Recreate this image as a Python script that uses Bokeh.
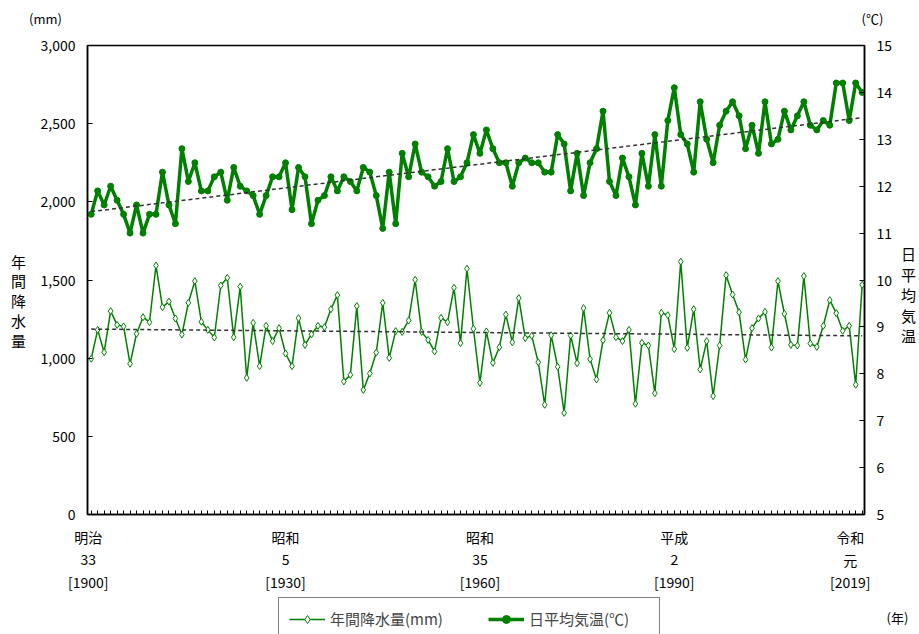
import numpy as np
from bokeh.plotting import figure
from bokeh.layouts import column, row
from bokeh.models import (Range1d, LinearAxis, FixedTicker, NumeralTickFormatter,
                          Label, Legend, LegendItem)
from bokeh.embed import file_html
from bokeh.resources import INLINE

# ---------------- data ----------------
years = list(range(1900, 2020))

precip = [
    996, 1181, 1038, 1301, 1213, 1203, 964, 1156, 1262, 1230,      # 1900-09
    1593, 1326, 1362, 1254, 1151, 1354, 1493, 1233, 1181, 1132,    # 1910-19
    1465, 1514, 1134, 1458, 874, 1226, 949, 1207, 1109, 1192,      # 1920-29
    1030, 949, 1256, 1085, 1153, 1207, 1198, 1313, 1403, 851,      # 1930-39
    893, 1333, 797, 902, 1036, 1354, 1002, 1173, 1168, 1241,       # 1940-49
    1501, 1168, 1117, 1043, 1258, 1230, 1450, 1096, 1572, 1188,    # 1950-59
    842, 1171, 970, 1070, 1279, 1102, 1384, 1128, 1143, 974,       # 1960-69
    702, 1147, 945, 650, 1145, 968, 1320, 994, 864, 1115,          # 1970-79
    1290, 1134, 1109, 1181, 708, 1098, 1081, 776, 1290, 1275,      # 1980-89
    1058, 1618, 1066, 1313, 928, 1109, 757, 1081, 1531, 1407,      # 1990-99
    1294, 991, 1192, 1254, 1296, 1068, 1493, 1284, 1085, 1081,     # 2000-09
    1525, 1094, 1072, 1207, 1371, 1288, 1175, 1207, 830, 1469,     # 2010-19
]

temp = [
    11.4, 11.9, 11.6, 12.0, 11.7, 11.4, 11.0, 11.6, 11.0, 11.4,
    11.4, 12.3, 11.6, 11.2, 12.8, 12.1, 12.5, 11.9, 11.9, 12.2,
    12.3, 11.7, 12.4, 12.0, 11.9, 11.8, 11.4, 11.8, 12.2, 12.2,
    12.5, 11.5, 12.4, 12.2, 11.2, 11.7, 11.8, 12.2, 11.9, 12.2,
    12.1, 11.9, 12.4, 12.3, 11.8, 11.1, 12.3, 11.2, 12.7, 12.2,
    12.9, 12.3, 12.2, 12.0, 12.1, 12.8, 12.1, 12.2, 12.5, 13.1,
    12.7, 13.2, 12.8, 12.5, 12.5, 12.0, 12.5, 12.6, 12.5, 12.5,
    12.3, 12.3, 13.1, 12.9, 11.9, 12.7, 11.8, 12.5, 12.8, 13.6,
    12.1, 11.8, 12.6, 12.2, 11.6, 12.7, 12.0, 13.1, 12.0, 13.4,
    14.1, 13.1, 12.9, 12.3, 13.8, 13.0, 12.5, 13.3, 13.6, 13.8,
    13.5, 12.8, 13.3, 12.7, 13.8, 12.9, 13.0, 13.6, 13.2, 13.5,
    13.8, 13.3, 13.2, 13.4, 13.3, 14.2, 14.2, 13.4, 14.2, 14.0,
]

era_ticks = [1900, 1930, 1960, 1990, 2019]
era_names = ["明治", "昭和", "昭和", "平成", "令和"]
era_years = ["33", "5", "35", "2", "元"]
west_years = ["[1900]", "[1930]", "[1960]", "[1990]", "[2019]"]

precip_ticks = [0, 500, 1000, 1500, 2000, 2500, 3000]
temp_ticks = [5, 6, 7, 8, 9, 10, 11, 12, 13, 14, 15]

left_title = ["年", "間", "降", "水", "量"]
right_title = ["日", "平", "均", "気", "温"]

label_precip = "年間降水量(mm)"
label_temp = "日平均気温(℃)"

# ---------------- style / layout ----------------
GREEN = "#008000"
TREND = "#333333"
JP = "Noto Sans CJK JP"
X0, X1 = 1899.43, 2019.36
W, H = 919, 634
TOP_H = 30                    # strip above the chart
LEFT_W, RIGHT_W = 35, 26      # strips with the stacked axis titles
FW, FH = 777, 469             # plot frame
ML, MR, MT, MB = 52, 29, 15, 12
MAIN_W = ML + FW + MR
MAIN_H = MT + FH + MB
BOT_H = H - TOP_H - MAIN_H
PPY = FW / (X1 - X0)
FRAME_LEFT = LEFT_W + ML      # page x of the frame's left edge


def strip(w, h, x_range, y_range):
    f = figure(width=w, height=h, x_range=x_range, y_range=y_range,
               x_axis_type=None, y_axis_type=None, output_backend="svg",
               toolbar_location=None, min_border=0)
    f.outline_line_color = None
    f.background_fill_color = "white"
    f.border_fill_color = "white"
    return f


def lab(f, x, y, t, size="14px", align="center", dx=0):
    f.add_layout(Label(x=x, y=y, text=t, text_align=align, text_baseline="middle",
                       x_offset=dx, text_font=JP, text_font_size=size,
                       text_color="black"))


# ---- main chart ----
p = figure(frame_width=FW, frame_height=FH,
           x_range=Range1d(X0, X1), y_range=Range1d(0, 3000),
           output_backend="svg", toolbar_location=None,
           min_border_left=ML, min_border_right=MR,
           min_border_top=MT, min_border_bottom=MB)
p.extra_y_ranges = {"t": Range1d(5, 15)}
p.xgrid.visible = False
p.ygrid.visible = False
p.outline_line_color = "black"
p.outline_line_width = 1.5
p.background_fill_color = "white"
p.border_fill_color = "white"

la = p.yaxis[0]
la.ticker = FixedTicker(ticks=precip_ticks)
la.formatter = NumeralTickFormatter(format="0,0")
ra = LinearAxis(y_range_name="t", ticker=FixedTicker(ticks=temp_ticks))
p.add_layout(ra, "right")

for ax in (la, ra):
    ax.major_tick_in = 5
    ax.major_tick_out = 0
    ax.minor_tick_in = 0
    ax.minor_tick_out = 0
    ax.axis_line_width = 1.5
    ax.axis_line_color = "black"
    ax.major_tick_line_color = "black"
    ax.major_label_text_font = JP
    ax.major_label_text_font_size = "14px"
    ax.major_label_text_color = "black"
    ax.major_label_standoff = 12

xa = p.xaxis[0]
xa.ticker = FixedTicker(ticks=years)
xa.major_label_overrides = {y: "" for y in years}
xa.major_label_text_font_size = "1px"
xa.major_label_standoff = 0
xa.major_tick_in = 4
xa.major_tick_out = 0
xa.minor_tick_in = 0
xa.minor_tick_out = 0
xa.axis_line_width = 1.5
xa.axis_line_color = "black"
xa.major_tick_line_color = "black"

p.line(years, precip, line_color=GREEN, line_width=1.5)
p.scatter(years, precip, marker="diamond", size=7, line_color=GREEN,
          fill_color="white", line_width=1)
p.line(years, temp, y_range_name="t", line_color=GREEN, line_width=3.5)
p.scatter(years, temp, y_range_name="t", marker="circle", size=6,
          fill_color=GREEN, line_color=GREEN)

ends = [years[0], years[-1]]
cp = np.polyfit(years, precip, 1)
ct = np.polyfit(years, temp, 1)
p.line(ends, list(np.polyval(cp, ends)), line_dash="4 3", line_color=TREND, line_width=1.5)
p.line(ends, list(np.polyval(ct, ends)), y_range_name="t", line_dash="4 3",
       line_color=TREND, line_width=1.5)

# ---- top strip: units ----
top = strip(W, TOP_H, Range1d(0, W), Range1d(TOP_H, 0))
lab(top, 45, 18, "(mm)", "13px")
lab(top, 872, 18, "(℃)", "13px")

# ---- side strips: stacked axis titles ----
left = strip(LEFT_W, MAIN_H, Range1d(0, LEFT_W), Range1d(MAIN_H, 0))
for i, ch in enumerate(left_title):
    lab(left, 18, 258 - TOP_H + i * 21, ch, "15px")
right = strip(RIGHT_W, MAIN_H, Range1d(0, RIGHT_W), Range1d(MAIN_H, 0))
for i, ch in enumerate(right_title):
    lab(right, RIGHT_W / 2, 250 - TOP_H + i * 21.7, ch, "15px")

# ---- bottom strip: year labels, legend, unit ----
bx = Range1d(X0 - FRAME_LEFT / PPY, X1 + (W - FRAME_LEFT - FW) / PPY)
bot = strip(W, BOT_H, bx, Range1d(BOT_H, 0))
# a range that keeps the legend's sample renderers outside the strip's view
bot.extra_y_ranges = {"hidden": Range1d(-3000, -2000)}
y_base = TOP_H + MAIN_H
shifts = [-3, 0, 0, 0, -12]   # pixel nudges of the tick-label columns
for xv, a, b, c, dx in zip(era_ticks, era_names, era_years, west_years, shifts):
    lab(bot, xv, 536 - y_base, a, "14px", dx=dx)
    lab(bot, xv, 559 - y_base, b, "14px", dx=dx)
    lab(bot, xv, 581 - y_base, c, "14px", dx=dx)
lab(bot, bx.start + 897 / PPY, 617 - y_base, "(年)", "13px")

lp_line = bot.line(years, precip, y_range_name="hidden", line_color=GREEN, line_width=1.5)
lp_mark = bot.scatter(years, precip, y_range_name="hidden", marker="diamond", size=7,
                      line_color=GREEN, fill_color="white", line_width=1)
lt_line = bot.line(years, temp, y_range_name="hidden", line_color=GREEN, line_width=3.5)
lt_mark = bot.scatter(years, temp, y_range_name="hidden", marker="circle", size=6,
                      fill_color=GREEN, line_color=GREEN)

legend = Legend(items=[LegendItem(label=label_precip, renderers=[lp_line, lp_mark]),
                       LegendItem(label=label_temp, renderers=[lt_line, lt_mark])],
                location=(278, BOT_H - (600 - y_base) - 40), orientation="horizontal",
                border_line_color="black", border_line_width=1,
                background_fill_color="white", background_fill_alpha=1,
                label_text_font=JP, label_text_font_size="15px",
                glyph_width=36, glyph_height=20, label_height=20, label_width=120,
                label_standoff=5, spacing=38, padding=10, margin=0)
bot.add_layout(legend)

layout = column(top, row(left, p, right), bot)
open("out.html", "w").write(file_html(layout, INLINE))
